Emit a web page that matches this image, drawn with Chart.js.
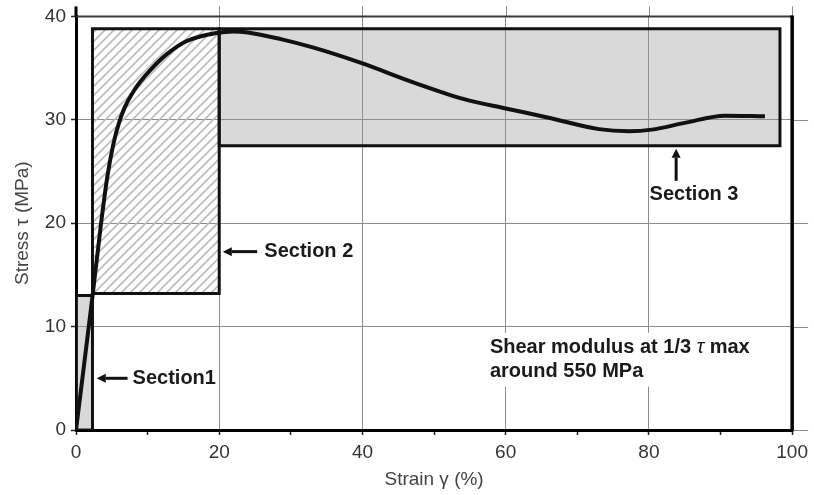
<!DOCTYPE html>
<html>
<head>
<meta charset="utf-8">
<script src="https://cdn.jsdelivr.net/npm/chart.js@4.4.1/dist/chart.umd.min.js"></script>
<style>
  body { margin: 0; background: #fff; }
  canvas { display: block; }
</style>
</head>
<body>
<canvas id="stressChart" width="814" height="495"></canvas>
<script>
// Shear stress-strain curve
const strain = [0, 2.3, 3.5, 4.4, 5.2, 6.0, 6.8, 7.8, 9.0, 10.5, 12.6, 15.4, 19.6, 22, 24, 28.6, 33.3, 39.8, 47.2, 54.2, 60, 66, 73, 77.2, 80.4, 85, 90.6, 96.2];
const stress = [0, 12.9, 20.0, 24.6, 27.6, 29.7, 31.2, 32.5, 33.7, 34.9, 36.3, 37.6, 38.4, 38.55, 38.45, 37.8, 36.95, 35.5, 33.6, 32.0, 31.1, 30.2, 29.1, 28.9, 29.05, 29.7, 30.4, 30.35];

// Section boxes (strain range, stress range)
const section1X = [0, 2.3];
const section1Y = [0, 13];
const section2X = [2.3, 20];
const section2Y = [13.2, 38.8];
const section3X = [20, 98.3];
const section3Y = [27.5, 38.8];

const sectionLabels = ["Section1", "Section 2", "Section 3"];
const noteLines = ["Shear modulus at 1/3 ", "\u03c4", " max", "around 550 MPa"];

const xMax = 100, yMax = 40;

function boxPoints(xs, ys) {
    return [
        {x: xs[0], y: ys[0]}, {x: xs[1], y: ys[0]},
        {x: xs[1], y: ys[1]}, {x: xs[0], y: ys[1]},
        {x: xs[0], y: ys[0]}
    ];
}

// hatch pattern for section 2
function makeHatch() {
    const c = document.createElement("canvas");
    c.width = 9; c.height = 9;
    const g = c.getContext("2d");
    g.strokeStyle = "#bcbcbc";
    g.lineWidth = 1.6;
    g.beginPath();
    g.moveTo(-1, 10); g.lineTo(10, -1);
    g.moveTo(-1, 1); g.lineTo(1, -1);
    g.moveTo(8, 10); g.lineTo(10, 8);
    g.stroke();
    return g.createPattern(c, "repeat");
}

const FONT = '"Liberation Sans", Arial, Helvetica, sans-serif';
const boxFill = "rgba(150,150,150,0.36)";

const decor = {
    id: "decor",
    afterDatasetsDraw(chart) {
        const {ctx, chartArea: a, scales: {x, y}} = chart;
        const px = v => x.getPixelForValue(v);
        const py = v => y.getPixelForValue(v);
        const seg = (x1, y1, x2, y2) => { ctx.beginPath(); ctx.moveTo(x1, y1); ctx.lineTo(x2, y2); ctx.stroke(); };
        ctx.save();

        // grid stubs sticking out of the frame
        ctx.strokeStyle = "#8c8c8c";
        ctx.lineWidth = 1;
        for (let v = 20; v <= xMax; v += 20) {
            const X = Math.round(px(v)) + 0.5;
            seg(X, a.top - 10, X, a.top);
        }
        for (let v = 0; v < yMax; v += 10) {
            const Y = Math.round(py(v)) + 0.5;
            seg(a.right, Y, a.right + 16, Y);
        }

        // frame
        ctx.strokeStyle = "#3a3a3a";
        ctx.lineWidth = 2;
        seg(a.left, py(yMax), a.right, py(yMax));
        ctx.strokeStyle = "#000";
        ctx.lineWidth = 3;
        seg(a.left, a.top - 10, a.left, a.top);
        ctx.lineWidth = 3.5;
        seg(a.right, a.top - 1, a.right, a.bottom + 1.5);

        // arrows
        const arrow = (x1, y1, x2, y2) => {
            const ang = Math.atan2(y2 - y1, x2 - x1), L = 9, W = 4.5;
            const bx = x2 - L * Math.cos(ang), by = y2 - L * Math.sin(ang);
            ctx.strokeStyle = "#111";
            ctx.lineWidth = 3;
            seg(x1, y1, bx, by);
            ctx.fillStyle = "#111";
            ctx.beginPath();
            ctx.moveTo(x2, y2);
            ctx.lineTo(bx - W * Math.sin(ang), by + W * Math.cos(ang));
            ctx.lineTo(bx + W * Math.sin(ang), by - W * Math.cos(ang));
            ctx.closePath();
            ctx.fill();
        };
        arrow(px(7.2), py(5), px(2.9), py(5));
        arrow(px(25.3), py(17.25), px(20.5), py(17.25));
        arrow(px(83.8), py(24.1), px(83.8), py(27.2));

        // labels
        ctx.font = "bold 20px " + FONT;
        ctx.fillStyle = "#1a1a1a";
        ctx.textBaseline = "middle";
        ctx.textAlign = "left";
        ctx.fillText(sectionLabels[0], px(7.9), py(5));
        ctx.fillText(sectionLabels[1], px(26.3), py(17.25));
        ctx.textAlign = "center";
        ctx.fillText(sectionLabels[2], px(86.3), py(22.8));

        // note with white backing
        ctx.fillStyle = "#fff";
        ctx.fillRect(px(56.5), py(9.4), px(96) - px(56.5), py(4.2) - py(9.4));
        ctx.fillStyle = "#1a1a1a";
        ctx.textAlign = "left";
        let tx = px(57.8);
        const ty = py(8.0);
        ctx.fillText(noteLines[0], tx, ty);
        tx += ctx.measureText(noteLines[0]).width;
        ctx.font = "italic 20px " + FONT;
        ctx.fillText(noteLines[1], tx, ty);
        tx += ctx.measureText(noteLines[1]).width;
        ctx.font = "bold 20px " + FONT;
        ctx.fillText(noteLines[2], tx, ty);
        ctx.fillText(noteLines[3], px(57.8), py(5.7));

        ctx.restore();
    }
};

new Chart(document.getElementById("stressChart"), {
    type: "scatter",
    data: {
        datasets: [
            {
                data: strain.map((s, i) => ({x: s, y: stress[i]})),
                showLine: true,
                borderColor: "#111",
                borderWidth: 4,
                pointRadius: 0,
                cubicInterpolationMode: "monotone",
                fill: false,
                order: 0
            },
            {
                data: boxPoints(section3X, section3Y),
                showLine: true,
                borderColor: "#111",
                borderWidth: 3,
                borderCapStyle: "square",
                borderJoinStyle: "miter",
                pointRadius: 0,
                backgroundColor: boxFill,
                fill: "shape",
                order: 1
            },
            {
                data: boxPoints(section2X, section2Y),
                showLine: true,
                borderColor: "#111",
                borderWidth: 3,
                borderCapStyle: "square",
                borderJoinStyle: "miter",
                pointRadius: 0,
                backgroundColor: makeHatch(),
                fill: "shape",
                order: 2
            },
            {
                data: boxPoints(section1X, section1Y),
                showLine: true,
                borderColor: "#111",
                borderWidth: 3,
                borderCapStyle: "square",
                borderJoinStyle: "miter",
                pointRadius: 0,
                backgroundColor: boxFill,
                fill: "shape",
                order: 3
            }
        ]
    },
    options: {
        responsive: false,
        animation: false,
        layout: { padding: { top: 15, right: 20, left: 0, bottom: 0 } },
        plugins: {
            legend: { display: false },
            tooltip: { enabled: false }
        },
        scales: {
            x: {
                type: "linear",
                min: 0,
                max: xMax,
                afterFit: s => { s.height = 65; },
                border: { color: "#000", width: 3 },
                grid: {
                    color: c => (c.tick && c.tick.value % 20 === 0) ? "#8c8c8c" : "rgba(0,0,0,0)",
                    lineWidth: 1,
                    tickLength: 5,
                    tickColor: "#222",
                    tickWidth: 1.5
                },
                ticks: {
                    stepSize: 10,
                    autoSkip: false,
                    maxRotation: 0,
                    padding: 6,
                    color: "#333",
                    font: { family: FONT, size: 19 },
                    callback: v => v % 20 === 0 ? v : ""
                },
                title: {
                    display: true,
                    text: "Strain \u03b3 (%)",
                    color: "#444",
                    font: { family: FONT, size: 19 },
                    padding: { top: 0, bottom: 4 }
                }
            },
            y: {
                type: "linear",
                min: 0,
                max: yMax,
                afterFit: s => { s.width = 76; },
                border: { color: "#000", width: 3 },
                grid: {
                    color: "#8c8c8c",
                    lineWidth: 1,
                    tickLength: 5,
                    tickColor: "#222",
                    tickWidth: 1.5
                },
                ticks: {
                    stepSize: 10,
                    padding: 5,
                    color: "#333",
                    font: { family: FONT, size: 19 }
                },
                title: {
                    display: true,
                    text: "Stress \u03c4 (MPa)",
                    color: "#444",
                    font: { family: FONT, size: 19 },
                    padding: { top: 11, bottom: 0 }
                }
            }
        }
    },
    plugins: [decor]
});
</script>
</body>
</html>
